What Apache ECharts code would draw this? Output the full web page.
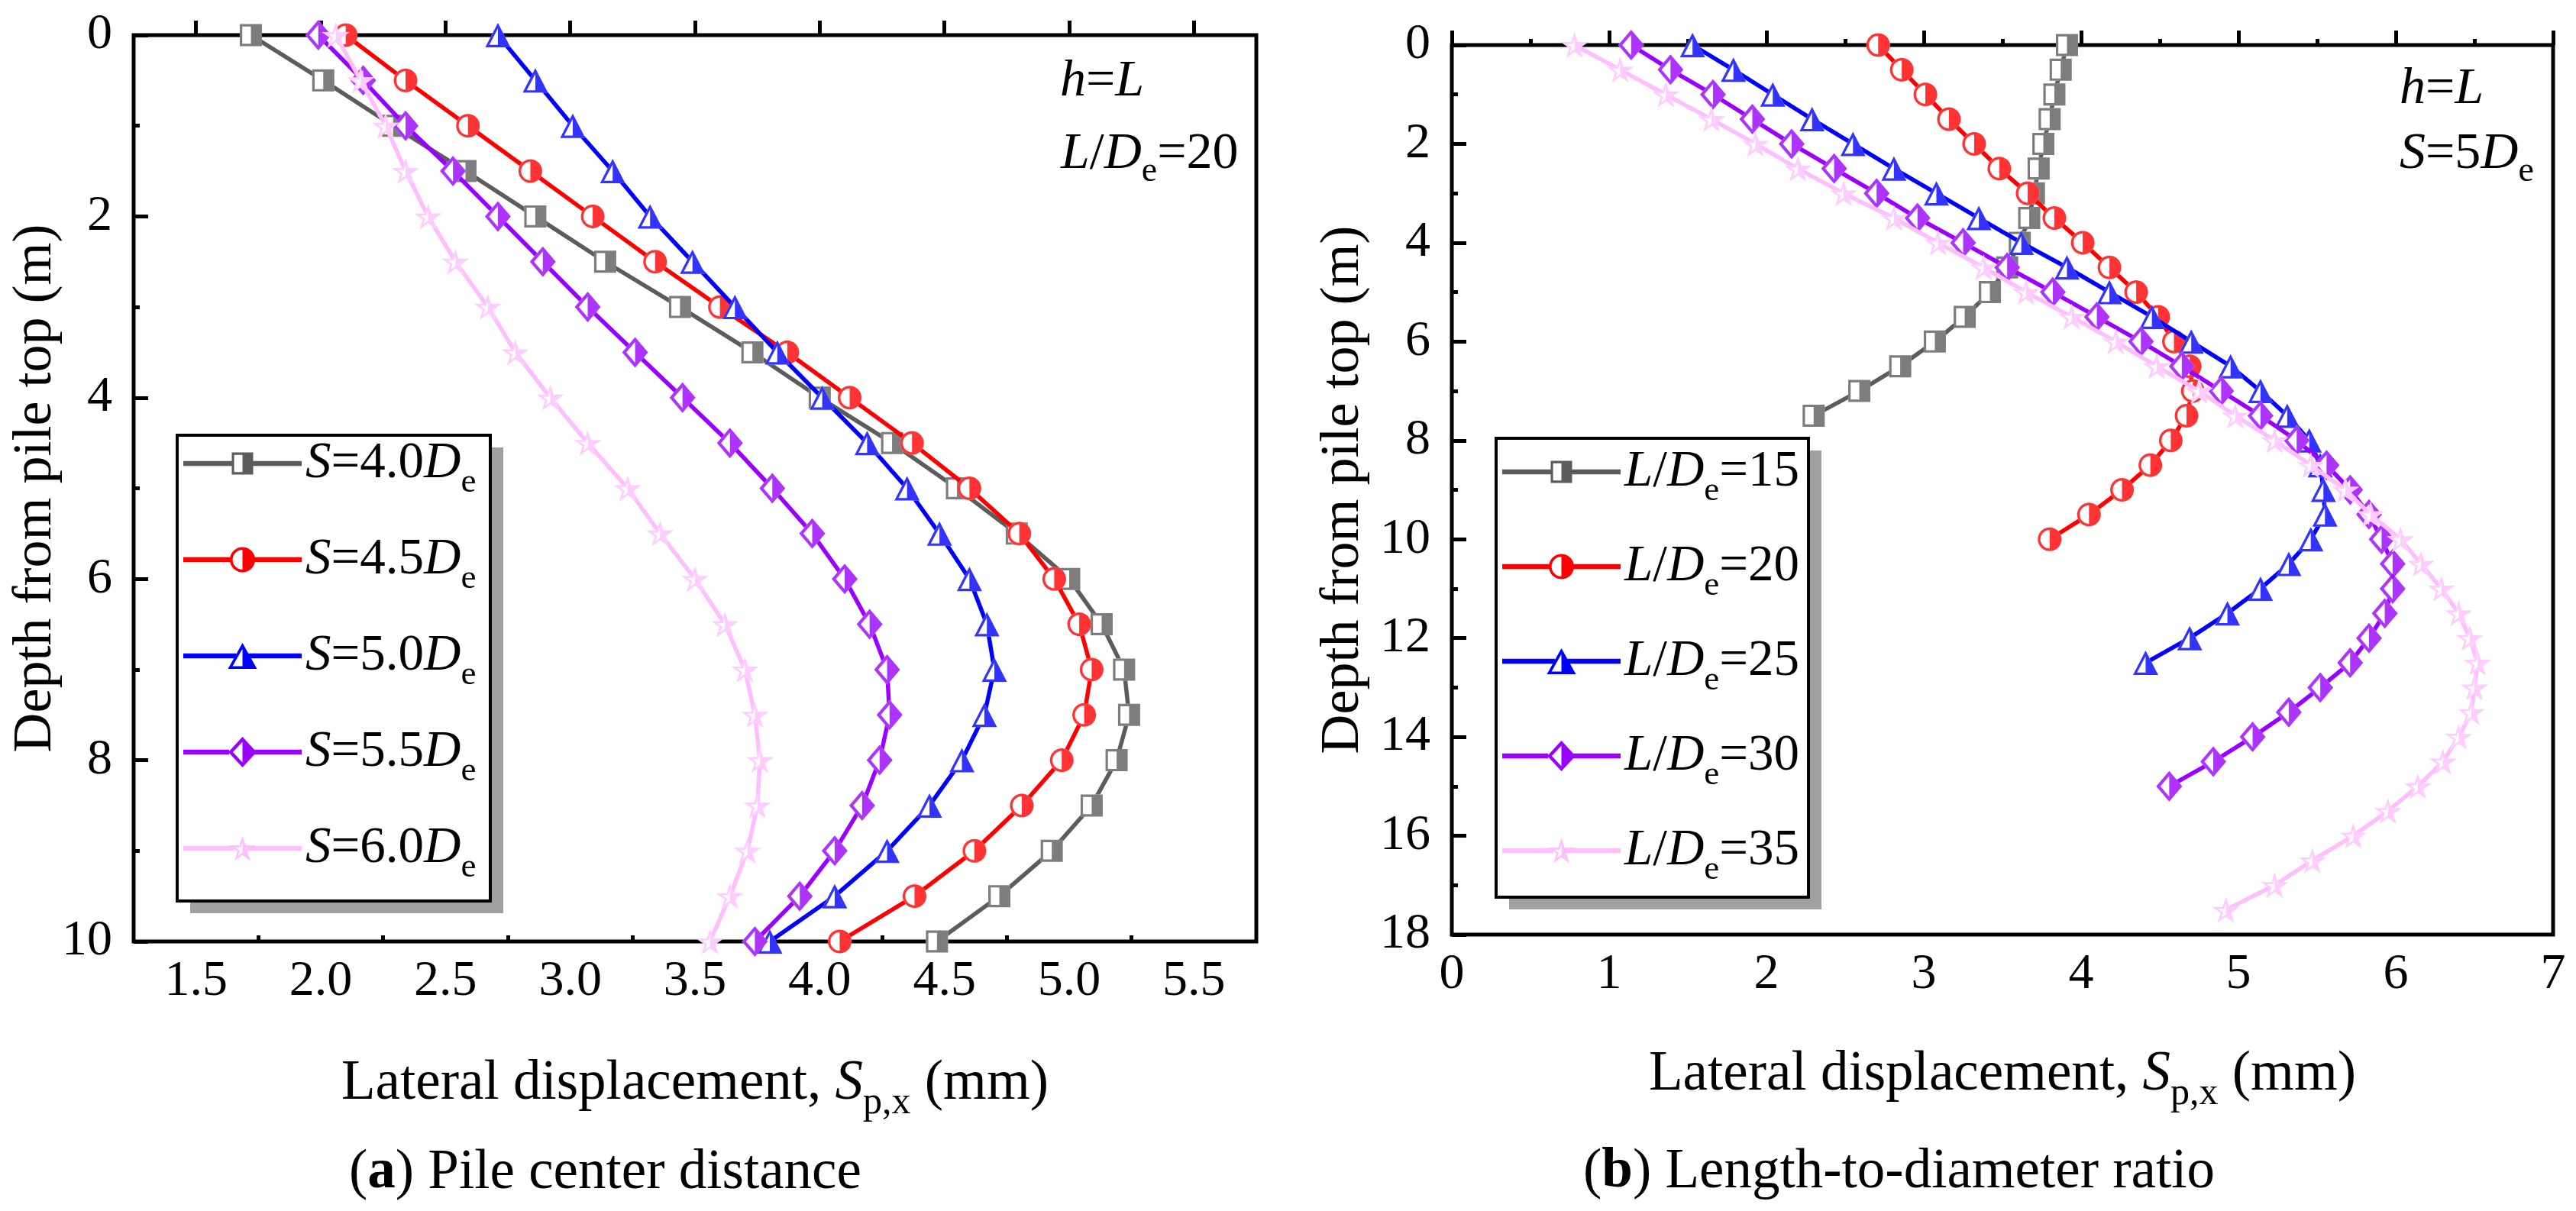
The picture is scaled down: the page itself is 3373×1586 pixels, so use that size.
<!DOCTYPE html>
<html>
<head>
<meta charset="utf-8">
<script src="https://cdn.jsdelivr.net/npm/echarts@6/dist/echarts.min.js"></script>
<style>
html, body { margin: 0; padding: 0; background: #fff; }
#main { width: 3373px; height: 1586px; }
</style>
</head>
<body>
<div id="main"></div>
<script>
// ---- data: (a) pile center distance ----
var depthA = [0, 0.5, 1, 1.5, 2, 2.5, 3, 3.5, 4, 4.5, 5, 5.5, 6, 6.5, 7, 7.5, 8, 8.5, 9, 9.5, 10];
var dispS40 = [1.72, 2.01, 2.29, 2.58, 2.86, 3.14, 3.44, 3.73, 4.00, 4.29, 4.55, 4.79, 5.00, 5.13, 5.22, 5.24, 5.19, 5.09, 4.93, 4.72, 4.47];
var dispS45 = [2.10, 2.34, 2.59, 2.84, 3.09, 3.34, 3.60, 3.87, 4.12, 4.37, 4.60, 4.80, 4.94, 5.04, 5.09, 5.06, 4.97, 4.81, 4.62, 4.38, 4.08];
var dispS50 = [2.71, 2.86, 3.01, 3.17, 3.32, 3.49, 3.66, 3.83, 4.01, 4.19, 4.35, 4.48, 4.60, 4.67, 4.70, 4.66, 4.57, 4.44, 4.27, 4.06, 3.80];
var dispS55 = [1.99, 2.17, 2.34, 2.53, 2.71, 2.89, 3.07, 3.26, 3.45, 3.64, 3.81, 3.97, 4.10, 4.20, 4.27, 4.28, 4.24, 4.17, 4.06, 3.92, 3.74];
var dispS60 = [2.06, 2.16, 2.26, 2.34, 2.43, 2.54, 2.67, 2.78, 2.92, 3.07, 3.23, 3.36, 3.50, 3.62, 3.70, 3.74, 3.76, 3.75, 3.71, 3.64, 3.56];
var namesA = ['S=4.0De', 'S=4.5De', 'S=5.0De', 'S=5.5De', 'S=6.0De'];
var xMajorA = [1.5, 2.0, 2.5, 3.0, 3.5, 4.0, 4.5, 5.0, 5.5];
var xMinorA = [1.75, 2.25, 2.75, 3.25, 3.75, 4.25, 4.75, 5.25];

// ---- data: (b) length-to-diameter ratio ----
var depth15 = [0, 0.5, 1, 1.5, 2, 2.5, 3, 3.5, 4, 4.5, 5, 5.5, 6, 6.5, 7, 7.5];
var depth20 = [0, 0.5, 1, 1.5, 2, 2.5, 3, 3.5, 4, 4.5, 5, 5.5, 6, 6.5, 7, 7.5, 8, 8.5, 9, 9.5, 10];
var depth25 = [0, 0.5, 1, 1.5, 2, 2.5, 3, 3.5, 4, 4.5, 5, 5.5, 6, 6.5, 7, 7.5, 8, 8.5, 9, 9.5, 10, 10.5, 11, 11.5, 12, 12.5];
var depth30 = [0, 0.5, 1, 1.5, 2, 2.5, 3, 3.5, 4, 4.5, 5, 5.5, 6, 6.5, 7, 7.5, 8, 8.5, 9, 9.5, 10, 10.5, 11, 11.5, 12, 12.5, 13, 13.5, 14, 14.5, 15];
var depth35 = [0, 0.5, 1, 1.5, 2, 2.5, 3, 3.5, 4, 4.5, 5, 5.5, 6, 6.5, 7, 7.5, 8, 8.5, 9, 9.5, 10, 10.5, 11, 11.5, 12, 12.5, 13, 13.5, 14, 14.5, 15, 15.5, 16, 16.5, 17, 17.5];
var dispL15 = [3.91, 3.87, 3.83, 3.80, 3.76, 3.73, 3.70, 3.67, 3.61, 3.53, 3.42, 3.26, 3.07, 2.85, 2.59, 2.30];
var dispL20 = [2.71, 2.86, 3.01, 3.16, 3.32, 3.48, 3.66, 3.83, 4.01, 4.18, 4.35, 4.49, 4.59, 4.69, 4.71, 4.67, 4.57, 4.44, 4.26, 4.05, 3.80];
var dispL25 = [1.53, 1.79, 2.04, 2.29, 2.55, 2.81, 3.08, 3.35, 3.62, 3.91, 4.18, 4.45, 4.70, 4.95, 5.14, 5.31, 5.45, 5.52, 5.54, 5.55, 5.46, 5.32, 5.14, 4.93, 4.69, 4.41];
var dispL30 = [1.14, 1.39, 1.66, 1.91, 2.16, 2.43, 2.70, 2.96, 3.25, 3.53, 3.82, 4.10, 4.38, 4.64, 4.89, 5.14, 5.37, 5.56, 5.71, 5.83, 5.91, 5.98, 5.98, 5.93, 5.83, 5.71, 5.52, 5.32, 5.09, 4.84, 4.56];
var dispL35 = [0.78, 1.07, 1.36, 1.65, 1.93, 2.20, 2.49, 2.81, 3.09, 3.38, 3.65, 3.94, 4.22, 4.48, 4.75, 4.98, 5.23, 5.46, 5.68, 5.84, 6.03, 6.16, 6.29, 6.40, 6.47, 6.52, 6.50, 6.48, 6.40, 6.30, 6.14, 5.95, 5.73, 5.47, 5.23, 4.92];
var namesB = ['L/De=15', 'L/De=20', 'L/De=25', 'L/De=30', 'L/De=35'];

var colors = ['#5c5c5c', '#ff0000', '#0000ff', '#9900ff', '#ffbfff'];
var F = '"Liberation Serif", "Times New Roman", serif';

// ---- half-filled marker shapes (left half hollow, right half solid) ----
function poly(p) {
  return p.map(function (q, i) { return (i ? 'L' : 'M') + q[0].toFixed(2) + ' ' + q[1].toFixed(2); }).join(' ') + ' Z';
}
function box(p) {
  var b = { x0: 1e9, x1: -1e9, y0: 1e9, y1: -1e9 };
  p.forEach(function (q) {
    b.x0 = Math.min(b.x0, q[0]); b.x1 = Math.max(b.x1, q[0]);
    b.y0 = Math.min(b.y0, q[1]); b.y1 = Math.max(b.y1, q[1]);
  });
  return b;
}
function circlePts(r, a0, a1, n) {
  var out = [];
  for (var j = 0; j <= n; j++) {
    var a = a0 + (a1 - a0) * j / n;
    out.push([r * Math.cos(a), r * Math.sin(a)]);
  }
  return out;
}
function starPts(R, r, k0, k1) {
  var out = [], step = k1 >= k0 ? 1 : -1;
  for (var k = k0; step > 0 ? k <= k1 : k >= k1; k += step) {
    var a = -Math.PI / 2 + k * Math.PI / 5;
    var rr = (k % 2 === 0) ? R : r;
    out.push([rr * Math.cos(a), rr * Math.sin(a)]);
  }
  return out;
}
function makeShape(outer, hole, size, legendSize, edgeX) {
  return { outer: outer, hole: hole, size: size, legendSize: legendSize, edgeX: edgeX, box: box(outer),
           full: 'path://' + poly(outer), half: 'path://' + poly(outer) + ' ' + poly(hole) };
}
var fs = 0.55;
var SHAPES = [
  makeShape([[-50, -50], [50, -50], [50, 50], [-50, 50]], [[-39, -39], [-39, 39], [0, 39], [0, -39]], [29, 29], [28, 29], -50),
  makeShape(circlePts(50, 0, 2 * Math.PI, 48).slice(0, 48), circlePts(39, -Math.PI / 2, -3 * Math.PI / 2, 24), [31, 31], [33, 33], -50),
  makeShape([[0, -50], [50, 50], [-50, 50]], [[0, -27], [-34, 40], [0, 40]], [33, 32], [38, 34], -25),
  makeShape([[0, -50], [50, 0], [0, 50], [-50, 0]], [[0, -34], [-34, 0], [0, 34]], [34, 40], [37, 40], -50),
  makeShape(starPts(50, 19.1, 0, 9), starPts(50 * fs, 19.1 * fs, 0, -5), [36, 34], [34, 33], -33)
];

function legendIcon(sh) {
  var W = 155, w = sh.legendSize[0], h = sh.legendSize[1], t = 3.25;
  var b = sh.box;
  var sx = w / (b.x1 - b.x0), sy = h / (b.y1 - b.y0);
  var cx = (b.x0 + b.x1) / 2, cy = (b.y0 + b.y1) / 2;
  function tr(p) { return [W / 2 + (p[0] - cx) * sx, h / 2 + (p[1] - cy) * sy]; }
  var xl = W / 2 + (sh.edgeX + 3 - cx) * sx;
  var left = [[0, h / 2 - t], [xl, h / 2 - t], [xl, h / 2 + t], [0, h / 2 + t]];
  var right = [[W / 2, h / 2 - t], [W, h / 2 - t], [W, h / 2 + t], [W / 2, h / 2 + t]];
  return 'path://' + poly(left) + ' ' + poly(sh.outer.map(tr)) + ' ' + poly(sh.hole.map(tr)) + ' ' + poly(right);
}

function pairs(xs, ys) { return xs.map(function (x, i) { return [x, ys[i]]; }); }

function curve(name, xs, ys, idx, xAxisIndex, yAxisIndex) {
  var sh = SHAPES[idx];
  var data = pairs(xs, ys);
  return [
    { name: name, type: 'line', xAxisIndex: xAxisIndex, yAxisIndex: yAxisIndex, data: data,
      symbol: sh.full, symbolSize: sh.size, showAllSymbol: true, clip: false, silent: true,
      lineStyle: { color: colors[idx], width: 5.5 },
      itemStyle: { color: '#ffffff', borderWidth: 0 }, z: 2 + 2 * idx },
    { name: name + ' marker', type: 'scatter', xAxisIndex: xAxisIndex, yAxisIndex: yAxisIndex, data: data,
      symbol: sh.half, symbolSize: sh.size, clip: false, silent: true,
      itemStyle: { color: colors[idx] }, z: 3 + 2 * idx }
  ];
}

function richName(name) {
  var m = name.match(/^S=(.*)De$/);
  if (m) return '{i|S}{n|=' + m[1] + '}{i|D}{s|e}';
  m = name.match(/^L\/De=(.*)$/);
  if (m) return '{i|L}{n|/}{i|D}{s|e}{n|=' + m[1] + '}';
  return name;
}

function richSet(size, sub, shift, lh) {
  return {
    n: { fontFamily: F, fontSize: size, color: '#000', lineHeight: lh },
    i: { fontFamily: F, fontSize: size, fontStyle: 'italic', color: '#000', lineHeight: lh },
    b: { fontFamily: F, fontSize: size, fontWeight: 'bold', color: '#000', lineHeight: lh },
    s: { fontFamily: F, fontSize: sub, color: '#000', lineHeight: lh, padding: [shift, 0, 0, 0] }
  };
}

function legendFor(names, left, top, gap) {
  return {
    orient: 'vertical', left: left, top: top, padding: 0,
    itemWidth: 155, itemHeight: 40, itemGap: gap, itemTextGap: 15,
    backgroundColor: 'transparent', borderWidth: 0,
    selectedMode: false, z: 20,
    data: names.map(function (n, i) {
      return { name: n, icon: legendIcon(SHAPES[i]), itemStyle: { color: colors[i], borderWidth: 0 } };
    }),
    formatter: richName,
    textStyle: { fontFamily: F, fontSize: 67, color: '#000', rich: richSet(67, 45, 51, 70) }
  };
}

// legend frame: shadow + white box with black border
function legendFrame(x, y, w, h) {
  return [
    { type: 'rect', z: 14, silent: true, shape: { x: x + 17, y: y + 16, width: w, height: h }, style: { fill: '#a0a0a0' } },
    { type: 'rect', z: 15, silent: true, shape: { x: x, y: y, width: w, height: h }, style: { fill: '#ffffff', stroke: '#000', lineWidth: 4 } }
  ];
}

var tickStyle = { color: '#000', width: 5 };
var labelStyle = { fontFamily: F, fontSize: 66, color: '#000' };
var xName = '{n|Lateral displacement, }{i|S}{s|p,x}{n| (mm)}';

var series = [];
var xsA = [dispS40, dispS45, dispS50, dispS55, dispS60];
xsA.forEach(function (xs, i) { series = series.concat(curve(namesA[i], xs, depthA, i, 0, 0)); });
var xsB = [dispL15, dispL20, dispL25, dispL30, dispL35];
var dsB = [depth15, depth20, depth25, depth30, depth35];
xsB.forEach(function (xs, i) { series = series.concat(curve(namesB[i], xs, dsB[i], i, 2, 1)); });

var chart = echarts.init(document.getElementById('main'), null, { renderer: 'canvas' });
var option = {
  animation: false,
  backgroundColor: '#ffffff',
  grid: [
    { left: 175, top: 46, width: 1470, height: 1187, show: true, borderColor: '#000', borderWidth: 5,
      backgroundColor: 'transparent', outerBoundsMode: 'none' },
    { left: 1901, top: 59, width: 1442, height: 1165, show: true, borderColor: '#000', borderWidth: 5,
      backgroundColor: 'transparent', outerBoundsMode: 'none' }
  ],
  xAxis: [
    { gridIndex: 0, type: 'value', position: 'bottom', min: 1.25, max: 5.75, interval: 0.25,
      axisLine: { show: false }, splitLine: { show: false },
      axisTick: { show: true, inside: true, length: 19, lineStyle: tickStyle, customValues: xMajorA },
      axisLabel: Object.assign({ margin: 20, customValues: xMajorA, formatter: function (v) { return v.toFixed(1); } }, labelStyle),
      name: xName, nameLocation: 'middle', nameGap: 149, nameMoveOverlap: false,
      nameTextStyle: { fontFamily: F, fontSize: 73, color: '#000', rich: richSet(73, 50, 50, 76) } },
    { gridIndex: 0, type: 'value', position: 'bottom', min: 1.25, max: 5.75, interval: 0.25,
      axisLine: { show: false }, splitLine: { show: false }, axisLabel: { show: false },
      axisTick: { show: true, inside: true, length: 8, lineStyle: tickStyle, customValues: xMinorA } },
    { gridIndex: 1, type: 'value', position: 'bottom', min: 0, max: 7, interval: 1,
      axisLine: { show: false }, splitLine: { show: false },
      axisTick: { show: true, inside: true, length: 19, lineStyle: tickStyle },
      minorTick: { show: true, splitNumber: 2, length: 8, lineStyle: tickStyle },
      axisLabel: Object.assign({ margin: 20, showMinLabel: true, showMaxLabel: true }, labelStyle),
      name: xName, nameLocation: 'middle', nameGap: 146, nameMoveOverlap: false,
      nameTextStyle: { fontFamily: F, fontSize: 73, color: '#000', rich: richSet(73, 50, 50, 76) } }
  ],
  yAxis: [
    { gridIndex: 0, type: 'value', inverse: true, min: 0, max: 10, interval: 2,
      axisLine: { show: false }, splitLine: { show: false },
      axisTick: { show: true, inside: true, length: 19, lineStyle: tickStyle },
      minorTick: { show: true, splitNumber: 2, length: 8, lineStyle: tickStyle },
      axisLabel: Object.assign({ margin: 28, showMinLabel: true, showMaxLabel: true }, labelStyle),
      name: 'Depth from pile top (m)', nameLocation: 'middle', nameGap: 92, nameRotate: 90, nameMoveOverlap: false,
      nameTextStyle: { fontFamily: F, fontSize: 72, color: '#000' } },
    { gridIndex: 1, type: 'value', inverse: true, min: 0, max: 18, interval: 2,
      axisLine: { show: false }, splitLine: { show: false },
      axisTick: { show: true, inside: true, length: 19, lineStyle: tickStyle },
      minorTick: { show: true, splitNumber: 2, length: 8, lineStyle: tickStyle },
      axisLabel: Object.assign({ margin: 28, showMinLabel: true, showMaxLabel: true }, labelStyle),
      name: 'Depth from pile top (m)', nameLocation: 'middle', nameGap: 106, nameRotate: 90, nameMoveOverlap: false,
      nameTextStyle: { fontFamily: F, fontSize: 72, color: '#000' } }
  ],
  legend: [
    legendFor(namesA, 240, 559, 30),
    legendFor(namesB, 1967, 570, 28)
  ],
  graphic: legendFrame(232, 570, 410, 610).concat(legendFrame(1959, 574, 409, 601)).concat([
    { type: 'text', left: 1388, top: 73, z: 30, style: { text: '{i|h}{n|=}{i|L}', rich: richSet(68, 46, 46, 70) } },
    { type: 'text', left: 1389, top: 156, z: 30, style: { text: '{i|L}{n|/}{i|D}{s|e}{n|=20}', rich: richSet(68, 46, 46, 70) } },
    { type: 'text', left: 3142, top: 83, z: 30, style: { text: '{i|h}{n|=}{i|L}', rich: richSet(68, 46, 46, 70) } },
    { type: 'text', left: 3142, top: 156, z: 30, style: { text: '{i|S}{n|=5}{i|D}{s|e}', rich: richSet(68, 46, 46, 70) } },
    { type: 'text', left: 457, top: 1500, z: 30, style: { text: '{n|(}{b|a}{n|) Pile center distance}', rich: richSet(73, 50, 0, 76) } },
    { type: 'text', left: 2073, top: 1499, z: 30, style: { text: '{n|(}{b|b}{n|) Length-to-diameter ratio}', rich: richSet(73, 50, 0, 76) } }
  ]),
  series: series
};
chart.setOption(option);
</script>
</body>
</html>
